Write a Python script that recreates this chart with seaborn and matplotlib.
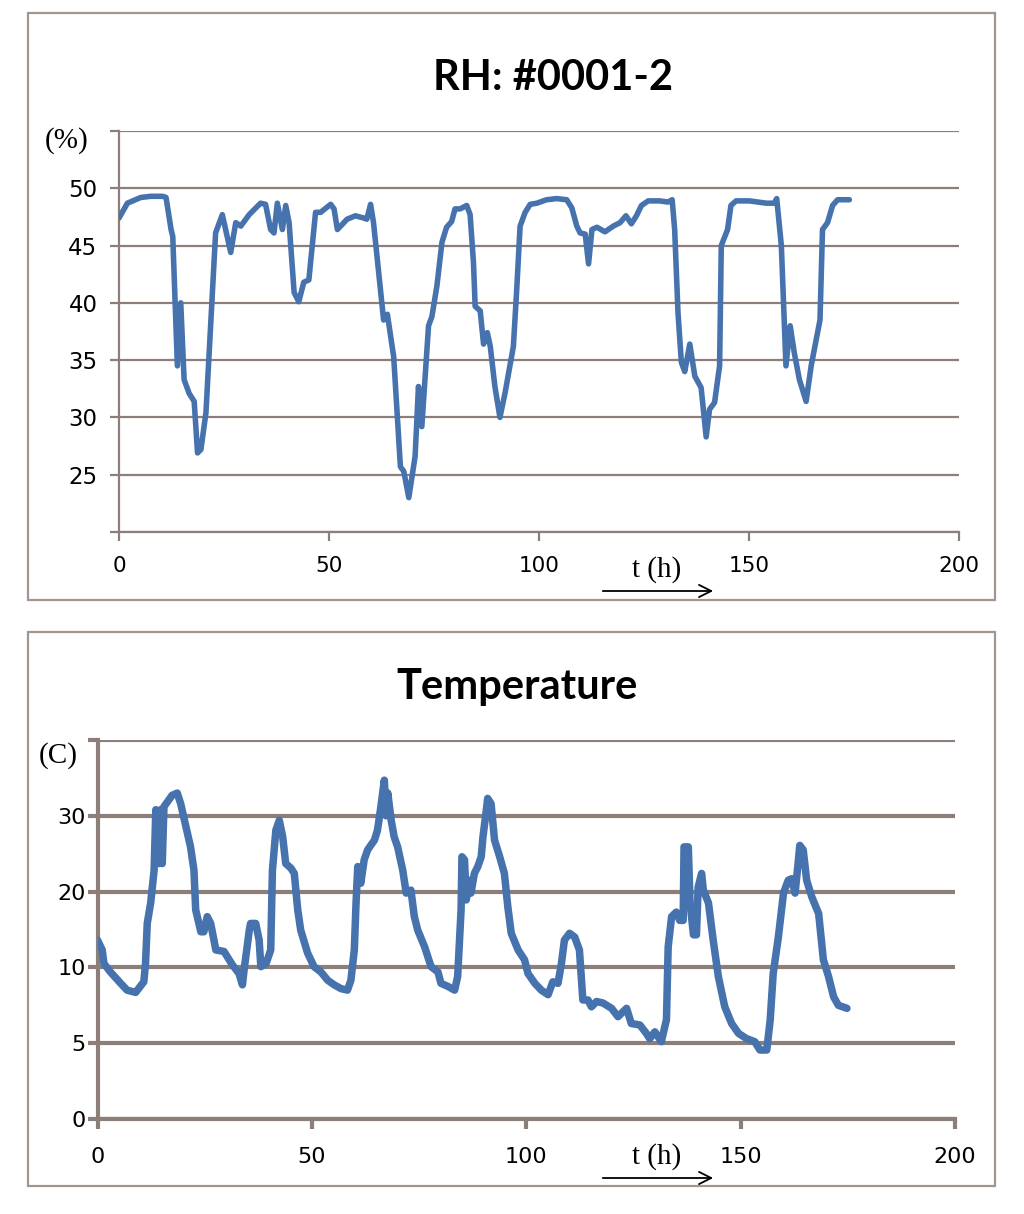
import matplotlib
matplotlib.use("Agg")
import matplotlib.pyplot as plt
import seaborn as sns
import pandas as pd
from matplotlib.patches import Rectangle, FancyArrowPatch

# ---------------- data ----------------
rh_t = [0.0, 2.0, 5.2, 7.6, 10.4, 11.2, 12.4, 12.8, 13.9, 14.7, 15.5, 16.7, 17.9, 18.7, 19.5,
        20.7, 23.0, 24.6, 26.6, 27.8, 29.0, 31.0, 33.7, 34.9, 36.1, 36.9, 37.7, 38.9, 39.7,
        40.5, 41.7, 42.8, 44.0, 45.2, 46.8, 48.0, 50.4, 51.2, 52.0, 54.3, 56.3, 58.3, 59.0,
        59.9, 60.6, 63.0, 63.9, 65.4, 67.0, 67.8, 69.0, 70.5, 71.3, 72.1, 73.7, 74.5, 75.7,
        76.9, 78.0, 79.2, 80.0, 81.2, 82.8, 83.6, 84.4, 84.8, 86.0, 86.8, 87.7, 88.4, 89.5,
        90.7, 91.9, 93.9, 94.7, 95.5, 96.7, 97.9, 99.5, 101.8, 104.2, 106.6, 107.8, 109.0,
        109.8, 111.0, 111.8, 112.6, 113.8, 115.7, 117.7, 119.3, 120.7, 122.0, 123.2, 124.4,
        126.0, 128.7, 130.7, 131.7, 132.3, 133.1, 133.9, 134.7, 135.9, 137.1, 138.6, 139.8,
        140.6, 141.8, 143.0, 143.4, 144.9, 145.7, 146.9, 150.1, 154.1, 156.0, 156.6, 157.7,
        158.8, 159.8, 160.8, 162.0, 163.6, 164.8, 166.0, 166.9, 167.5, 168.7, 169.9, 171.1,
        173.9]
rh_v = [47.4, 48.7, 49.2, 49.3, 49.3, 49.2, 46.4, 45.8, 34.5, 40.0, 33.3, 32.1, 31.4, 26.9, 27.2,
        30.4, 46.1, 47.7, 44.4, 47.0, 46.7, 47.7, 48.7, 48.6, 46.4, 46.1, 48.7, 46.4, 48.5,
        47.0, 40.9, 40.1, 41.8, 42.0, 47.9, 47.9, 48.6, 48.2, 46.4, 47.3, 47.6, 47.4, 47.3,
        48.6, 47.0, 38.5, 39.0, 35.3, 25.7, 25.3, 23.0, 26.6, 32.7, 29.2, 38.0, 38.8, 41.5,
        45.3, 46.6, 47.1, 48.2, 48.2, 48.5, 47.7, 43.5, 39.7, 39.3, 36.4, 37.4, 36.2, 32.7,
        30.0, 32.1, 36.2, 41.2, 46.7, 47.9, 48.6, 48.7, 49.0, 49.1, 49.0, 48.3, 46.7,
        46.1, 46.0, 43.4, 46.4, 46.6, 46.2, 46.7, 47.0, 47.6, 46.9, 47.6, 48.5,
        48.9, 48.9, 48.8, 49.0, 46.4, 39.1, 34.8, 34.0, 36.4, 33.6, 32.6, 28.3,
        30.7, 31.3, 34.5, 45.0, 46.4, 48.5, 48.9, 48.9, 48.7, 48.7, 49.1, 45.0,
        34.5, 38.0, 35.6, 33.3, 31.4, 34.5, 36.8, 38.5, 46.4, 47.0, 48.5, 49.0,
        49.0]

temp_t = [0.0, 1.1, 1.5, 3.0, 5.4, 6.9, 8.9, 10.8, 11.2, 11.6, 12.4, 13.2, 13.6, 14.3, 14.7,
          15.1, 15.5, 17.4, 18.6, 19.4, 20.6, 21.7, 22.5, 22.9, 24.1, 24.8, 25.6, 26.4, 27.6,
          29.5, 31.5, 33.0, 33.8, 34.2, 35.4, 35.7, 36.9, 37.7, 38.1, 39.3, 40.4, 40.8, 41.6,
          42.4, 43.2, 43.9, 45.1, 45.9, 46.7, 47.4, 49.0, 50.5, 52.1, 53.7, 55.2, 56.8, 58.3,
          59.1, 59.9, 60.3, 60.7, 61.4, 62.2, 63.0, 64.6, 65.3, 66.1, 66.9, 67.3, 67.7, 68.5,
          69.2, 70.0, 71.2, 72.0, 73.1, 73.9, 74.7, 76.3, 77.8, 79.4, 80.1, 81.7, 83.3, 84.0,
          84.8, 85.0, 85.6, 86.0, 86.8, 87.1, 87.9, 88.7, 89.5, 89.9, 90.7, 91.0, 91.8, 92.6,
          93.8, 94.9, 95.7, 96.5, 98.1, 99.6, 100.4, 102.0, 103.5, 105.1, 106.2, 107.4, 108.2,
          108.9, 110.1, 111.3, 112.4, 113.2, 114.4, 115.2, 116.4, 117.9, 119.9, 121.4, 123.4,
          124.5, 126.5, 128.0, 128.8, 130.0, 131.5, 132.7, 133.1, 133.9, 135.0, 135.8, 136.6,
          136.8, 137.8, 138.2, 139.0, 139.7, 140.1, 140.9, 141.3, 142.5, 143.6, 144.8, 146.3,
          147.9, 149.5, 151.4, 153.3, 154.5, 156.1, 156.9, 157.6, 158.8, 160.0, 161.1, 161.9,
          162.7, 163.4, 163.8, 164.6, 165.4, 166.6, 168.2, 169.3, 170.5, 171.7, 172.8, 174.8]
temp_v = [23.6, 22.3, 20.5, 19.4, 17.9, 17.0, 16.7, 18.1, 20.5, 25.8, 28.5, 32.8, 40.8, 33.7, 40.8,
          33.7, 41.2, 42.7, 43.0, 41.6, 38.6, 35.9, 32.8, 27.6, 24.7, 24.7, 26.7, 25.8, 22.3,
          22.1, 20.3, 19.2, 17.7, 19.7, 24.9, 25.8, 25.8, 23.6, 20.1, 20.5, 22.3, 32.8, 38.1,
          39.4, 37.2, 33.7, 33.1, 32.4, 27.6, 24.9, 21.9, 20.1, 19.4, 18.3, 17.7, 17.2, 17.0,
          18.3, 22.3, 28.5, 33.3, 31.1, 34.2, 35.5, 36.8, 38.1, 41.2, 44.7, 40.0, 43.0, 39.4,
          37.2, 35.9, 32.8, 29.8, 30.2, 26.7, 24.9, 22.7, 20.1, 19.4, 17.9, 17.5, 17.0, 18.8,
          27.6, 34.6, 34.2, 28.9, 31.5, 29.8, 32.4, 33.3, 34.6, 37.2, 40.8, 42.3, 41.6, 36.8,
          34.6, 32.4, 28.0, 24.5, 22.3, 21.0, 19.2, 17.9, 17.0, 16.4, 18.1, 17.9, 20.5,
          23.6, 24.5, 24.0, 22.3, 15.7, 15.7, 14.8, 15.5, 15.3, 14.6, 13.5, 14.6,
          12.6, 12.4, 11.3, 10.6, 11.5, 10.2, 13.1, 22.7, 26.7, 27.3, 26.2, 26.2,
          35.9, 35.9, 28.5, 24.3, 24.3, 30.6, 32.4, 30.2, 28.5, 23.6, 18.8, 14.8,
          12.6, 11.3, 10.6, 10.2, 9.1, 9.1, 13.1, 19.2, 24.0, 29.8, 31.5, 31.7,
          29.8, 33.7, 36.1, 35.5, 31.5, 29.3, 27.1, 21.0, 18.8, 16.1, 15.0, 14.6]

rh_title = "RH: #0001-2"
temp_title = "Temperature"
x_ticks = [0, 50, 100, 150, 200]
x_ticklabels = ["0", "50", "100", "150", "200"]
rh_yticks = [20, 25, 30, 35, 40, 45, 50, 55]
rh_yticklabels = ["", "25", "30", "35", "40", "45", "50", ""]
temp_yticks = [0, 10, 20, 30, 40, 50]
temp_yticklabels = ["0", "5", "10", "20", "30", ""]
rh_unit = "(%)"
temp_unit = "(C)"
time_label = "t (h)"

# ---------------- style ----------------
sns.set_theme(style="white")
plt.rcParams['font.family'] = ['DejaVu Sans']
plt.rcParams['text.color'] = 'black'
plt.rcParams['xtick.labelcolor'] = 'black'
plt.rcParams['ytick.labelcolor'] = 'black'

W, H = 1024, 1214
fig = plt.figure(figsize=(W / 100, H / 100), dpi=100)
fig.patch.set_facecolor("white")


def fx(px):
    return px / W


def fy(py):
    return 1 - py / H


LINE = "#4672AE"
GRID = "#8C7F79"
FRAME = "#A0958F"
SERIF = ["Liberation Serif", "DejaVu Serif"]

for (x0, y0, x1, y1) in [(28, 13, 995, 600), (28, 632, 995, 1186)]:
    fig.patches.append(Rectangle((fx(x0), fy(y1)), fx(x1) - fx(x0), fy(y0) - fy(y1),
                                 transform=fig.transFigure, fill=False,
                                 edgecolor=FRAME, linewidth=1.6))

ax1 = fig.add_axes([fx(119), fy(532), fx(959) - fx(119), fy(131) - fy(532)])
ax2 = fig.add_axes([fx(97.5), fy(1119), fx(955) - fx(97.5), fy(740) - fy(1119)])

rh_df = pd.DataFrame({"t": rh_t, "RH": rh_v})
temp_df = pd.DataFrame({"t": temp_t, "T": temp_v})

sns.lineplot(data=rh_df, x="t", y="RH", ax=ax1, color=LINE, linewidth=4.0,
             estimator=None, sort=False, legend=False,
             solid_joinstyle="round", solid_capstyle="round", zorder=3)
sns.lineplot(data=temp_df, x="t", y="T", ax=ax2, color=LINE, linewidth=5.4,
             estimator=None, sort=False, legend=False,
             solid_joinstyle="round", solid_capstyle="round", zorder=3)


def style_axes(ax, ylim, yticks, ylabels, gw, ysize, xsize, ypad, xpad, tlen):
    ax.set_facecolor("none")
    ax.set_xlim(0, 200)
    ax.set_ylim(*ylim)
    ax.set_xticks(x_ticks)
    ax.set_xticklabels(x_ticklabels)
    ax.set_yticks(yticks)
    ax.set_yticklabels(ylabels)
    ax.set_xlabel("")
    ax.set_ylabel("")
    ax.yaxis.grid(True, color=GRID, linewidth=gw)
    ax.xaxis.grid(False)
    ax.set_axisbelow(True)
    for s in ["top", "right"]:
        ax.spines[s].set_visible(False)
    for s in ["left", "bottom"]:
        ax.spines[s].set_color(GRID)
        ax.spines[s].set_linewidth(gw)
    ax.tick_params(axis="both", direction="out", color=GRID, width=gw,
                   length=tlen, labelcolor="black")
    ax.tick_params(axis="y", labelsize=ysize, pad=ypad, left=True)
    ax.tick_params(axis="x", labelsize=xsize, pad=xpad, bottom=True)


style_axes(ax1, (20, 55), rh_yticks, rh_yticklabels, 1.6, 16.5, 15.5, 9, 11, 6.5)
style_axes(ax2, (0, 50), temp_yticks, temp_yticklabels, 3.0, 16, 16, 1, 13, 7.5)

# titles
fig.text(fx(553), fy(78), rh_title, ha="center", va="center", color="black",
         fontsize=30, fontweight="bold", family=["Lato", "DejaVu Sans"])
fig.text(fx(517), fy(687), temp_title, ha="center", va="center", color="black",
         fontsize=30, fontweight="bold", family=["Lato", "DejaVu Sans"])

# unit labels
fig.text(fx(67), fy(141), rh_unit, ha="center", va="center", fontsize=21,
         family=SERIF, color="black")
fig.text(fx(58), fy(756), temp_unit, ha="center", va="center", fontsize=21,
         family=SERIF, color="black")

# time labels and arrows
for ty, ay in [(570, 591), (1157, 1178)]:
    fig.text(fx(657), fy(ty), time_label, ha="center", va="center", fontsize=21,
             family=SERIF, color="black")
    fig.patches.append(FancyArrowPatch((fx(600), fy(ay)), (fx(716), fy(ay)),
                                       transform=fig.transFigure, arrowstyle="->",
                                       mutation_scale=22, linewidth=1.3, color="black"))

fig.savefig("out.png", dpi=100, facecolor="white")
